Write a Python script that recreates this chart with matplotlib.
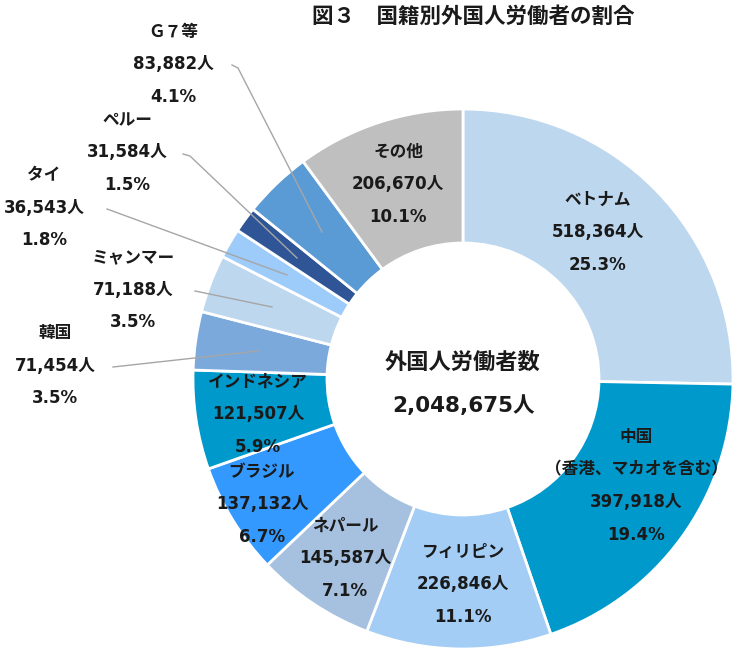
# Share of foreign workers by nationality (donut chart)

import matplotlib
matplotlib.use("Agg")
import matplotlib.pyplot as plt

# Verdana-like digits from DejaVu, Japanese glyphs fall back to Noto CJK
plt.rcParams["font.family"] = ["DejaVu Sans", "Noto Sans CJK JP"]

names = ["ベトナム", "中国\n（香港、マカオを含む）", "フィリピン", "ネパール", "ブラジル",
         "インドネシア", "韓国", "ミャンマー", "タイ", "ペルー", "Ｇ７等", "その他"]
counts = [518364, 397918, 226846, 145587, 137132, 121507,
          71454, 71188, 36543, 31584, 83882, 206670]
pcts = ["25.3%", "19.4%", "11.1%", "7.1%", "6.7%", "5.9%",
        "3.5%", "3.5%", "1.8%", "1.5%", "4.1%", "10.1%"]
colors = ["#BDD7EE", "#0099CC", "#A3CDF5", "#A6C1DF", "#3399FF", "#0099CC",
          "#7BA9DB", "#BDD7EE", "#9DCBFA", "#2F5597", "#5B9BD5", "#BFBFBF"]
total = 2048675

W, H = 744, 656
cx, cy = 463, 379
r_out, r_in = 270, 136

fig = plt.figure(figsize=(W / 100, H / 100), dpi=100)
ax = fig.add_axes([0, 0, 1, 1])
ax.axis("off")

ax.pie(counts, colors=colors, startangle=90, counterclock=False,
       center=(cx, H - cy), radius=r_out,
       wedgeprops=dict(width=r_out - r_in, edgecolor="white", linewidth=2))
ax.set_xlim(0, W)
ax.set_ylim(0, H)
ax.set_aspect("equal")

# first-line position of each label, in pixels from the top left
inside = {
    0: (598, 200),
    1: (636, 437),
    2: (463, 552),
    3: (345, 526),
    4: (262, 472),
    5: (258, 382),
    11: (398, 152),
}
outside = {
    10: (173, 32),
    9: (127, 120),
    8: (44, 175),
    7: (133, 257),
    6: (55, 333),
}
gap = 32.5
fs = 12

def put(x, y, s, size=fs):
    ax.text(x, H - y, s, ha="center", va="center", fontsize=size,
            fontweight="bold", color="#1a1a1a")

for i, (x, y) in list(inside.items()) + list(outside.items()):
    lines = names[i].split("\n") + [f"{counts[i]:,}人", pcts[i]]
    for k, s in enumerate(lines):
        put(x, y + k * gap, s)

# leader lines for the thin slices
leaders = [
    [(232, 65), (238, 68), (322, 232)],
    [(183, 154), (190, 156), (297, 258)],
    [(107, 209), (287, 275)],
    [(195, 291), (272, 307)],
    [(113, 367), (258, 351)],
]
for pts in leaders:
    xs = [p[0] for p in pts]
    ys = [H - p[1] for p in pts]
    ax.plot(xs, ys, color="#A6A6A6", lw=1)

put(cx, 362, "外国人労働者数", size=16)
put(cx, 406, f"{total:,}人", size=15.5)

put(473, 17, "図３　国籍別外国人労働者の割合", size=15.5)

fig.savefig("out.png", dpi=100)
